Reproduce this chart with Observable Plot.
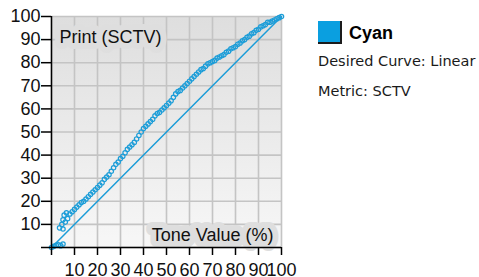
<!DOCTYPE html>
<html><head><meta charset="utf-8">
<script src="https://cdn.jsdelivr.net/npm/d3@7"></script>
<script src="https://cdn.jsdelivr.net/npm/@observablehq/plot@0.6"></script>
<style>
html,body{margin:0;padding:0;background:#fff;}
#wrap{position:relative;width:479px;height:277px;overflow:hidden;}
#swatch{position:absolute;left:318px;top:21px;width:22px;height:21px;background:#0a9fe0;border-right:2px solid #1c1c1c;border-bottom:2px solid #1c1c1c;}
#name{position:absolute;left:349px;top:23px;font:bold 18px "Liberation Sans",Arial,sans-serif;color:#000;white-space:nowrap;}
.info{position:absolute;left:318px;font:14.5px "DejaVu Sans",sans-serif;color:#1a1a1a;white-space:nowrap;}
</style></head><body><div id="wrap"></div>
<script>
const toneValue = [0,1,2,3,4,5,3.5,4.5,5,5,5.5,6,6.5,7,8,9,10,11,12,13,14,15,16,17,18,19,20,21,22,23,24,25,26,27,28,29,30,31,32,33,34,35,36,37,38,39,40,41,42,43,44,45,46,47,48,49,50,51,52,53,54,55,56,57,58,59,60,61,62,63,64,65,66,67,68,69,70,71,72,73,74,75,76,77,78,79,80,81,82,83,84,85,86,87,88,89,90,91,92,93,94,95,96,97,98,99,100];
const printValue = [0,0.5,1,1.2,0.8,1.5,8.5,10,8,12,14,11,15,12.5,14.5,15.5,16.5,17.5,18.5,19.5,20,21,22,23,24,25,26,27,28,29.5,30.5,31.5,33,34.5,36,37,38.5,39.5,41,42.5,43.5,44.5,45.5,47,48.5,50,51.5,52.5,53.5,54.5,55.5,57,58,58.5,59.5,60.5,61.5,62.5,63.5,65,66.5,67.5,68,69,70,71,72,73,74,75,76,77,77.5,78.5,79.5,80,80.5,81,82,82.5,83,83.5,84.5,85,86,86.5,87,88,88.5,89.5,90,91,91.5,92.5,93,94,94.5,95.5,96,96.5,97.5,97.5,98,98.5,99,99.5,100];
const desiredLinear = [0,100];
const xTicks = [0,10,20,30,40,50,60,70,80,90,100];
const yTicks = [0,10,20,30,40,50,60,70,80,90,100];
const xLabel = "Tone Value (%)";
const yLabel = "Print (SCTV)";
const seriesName = "Cyan";
const desiredCurveText = "Desired Curve: Linear";
const metricText = "Metric: SCTV";

const cyan = "#1c9dd8";
const points = toneValue.map((x, i) => ({x, y: printValue[i]}));
const diag = desiredLinear.map(v => ({x: v, y: v}));
const fmt = d => d === 0 ? "" : String(d);

const chart = Plot.plot({
  width: 479, height: 277,
  marginLeft: 51, marginRight: 198, marginTop: 16, marginBottom: 30,
  style: {fontFamily: "'Liberation Sans', Arial, sans-serif", fontSize: "18px", color: "#000", background: "transparent", overflow: "visible"},
  x: {domain: [0, 100]},
  y: {domain: [0, 100]},
  marks: [
    Plot.frame({fill: "url(#bg)", stroke: null}),
    Plot.gridX(xTicks, {stroke: "#c4c4c4", strokeOpacity: 1, strokeWidth: 1.6}),
    Plot.gridY(yTicks, {stroke: "#c4c4c4", strokeOpacity: 1, strokeWidth: 1.6}),
    Plot.text([yLabel], {frameAnchor: "top-left", textAnchor: "start", lineAnchor: "top", dx: 8, dy: 14, fontSize: 18, fill: "#111", stroke: "url(#bg)", strokeWidth: 12, paintOrder: "stroke", strokeLinejoin: "round"}),
    Plot.text([xLabel], {frameAnchor: "bottom-right", textAnchor: "end", lineAnchor: "middle", dx: -8, dy: -12, fontSize: 18, fill: "#111", stroke: "url(#bg)", strokeWidth: 12, paintOrder: "stroke", strokeLinejoin: "round"}),
    Plot.line(diag, {x: "x", y: "y", stroke: cyan, strokeWidth: 1.5}),
    Plot.dot(points, {x: "x", y: "y", r: 2.2, stroke: cyan, strokeWidth: 1.2, fill: "none"}),
    Plot.axisX(xTicks, {tickSize: 8, tickPadding: 8, tickFormat: fmt, stroke: "#000", strokeWidth: 1.5, fill: "#111", label: null}),
    Plot.axisY(yTicks, {tickSize: 10, tickPadding: 1, tickFormat: fmt, stroke: "#000", strokeWidth: 1.5, fill: "#111", label: null}),
    Plot.ruleX([0], {stroke: "#000", strokeWidth: 1.5}),
    Plot.ruleY([0], {stroke: "#000", strokeWidth: 1.5})
  ]
});

const ys = chart.scale("y");
const ns = "http://www.w3.org/2000/svg";
const defs = document.createElementNS(ns, "defs");
const grad = document.createElementNS(ns, "linearGradient");
grad.setAttribute("id", "bg");
grad.setAttribute("gradientUnits", "userSpaceOnUse");
grad.setAttribute("x1", 0); grad.setAttribute("x2", 0);
grad.setAttribute("y1", ys.apply(100)); grad.setAttribute("y2", ys.apply(0));
[["0", "#dedede"], ["1", "#f7f7f7"]].forEach(([o, c]) => {
  const s = document.createElementNS(ns, "stop");
  s.setAttribute("offset", o); s.setAttribute("stop-color", c);
  grad.appendChild(s);
});
defs.appendChild(grad);
chart.insertBefore(defs, chart.firstChild);

const wrap = document.getElementById("wrap");
wrap.appendChild(chart);

const sw = document.createElement("div"); sw.id = "swatch"; wrap.appendChild(sw);
const nm = document.createElement("div"); nm.id = "name"; nm.textContent = seriesName; wrap.appendChild(nm);
const i1 = document.createElement("div"); i1.className = "info"; i1.style.top = "53px"; i1.textContent = desiredCurveText; wrap.appendChild(i1);
const i2 = document.createElement("div"); i2.className = "info"; i2.style.top = "83px"; i2.textContent = metricText; wrap.appendChild(i2);
</script>
</body></html>
